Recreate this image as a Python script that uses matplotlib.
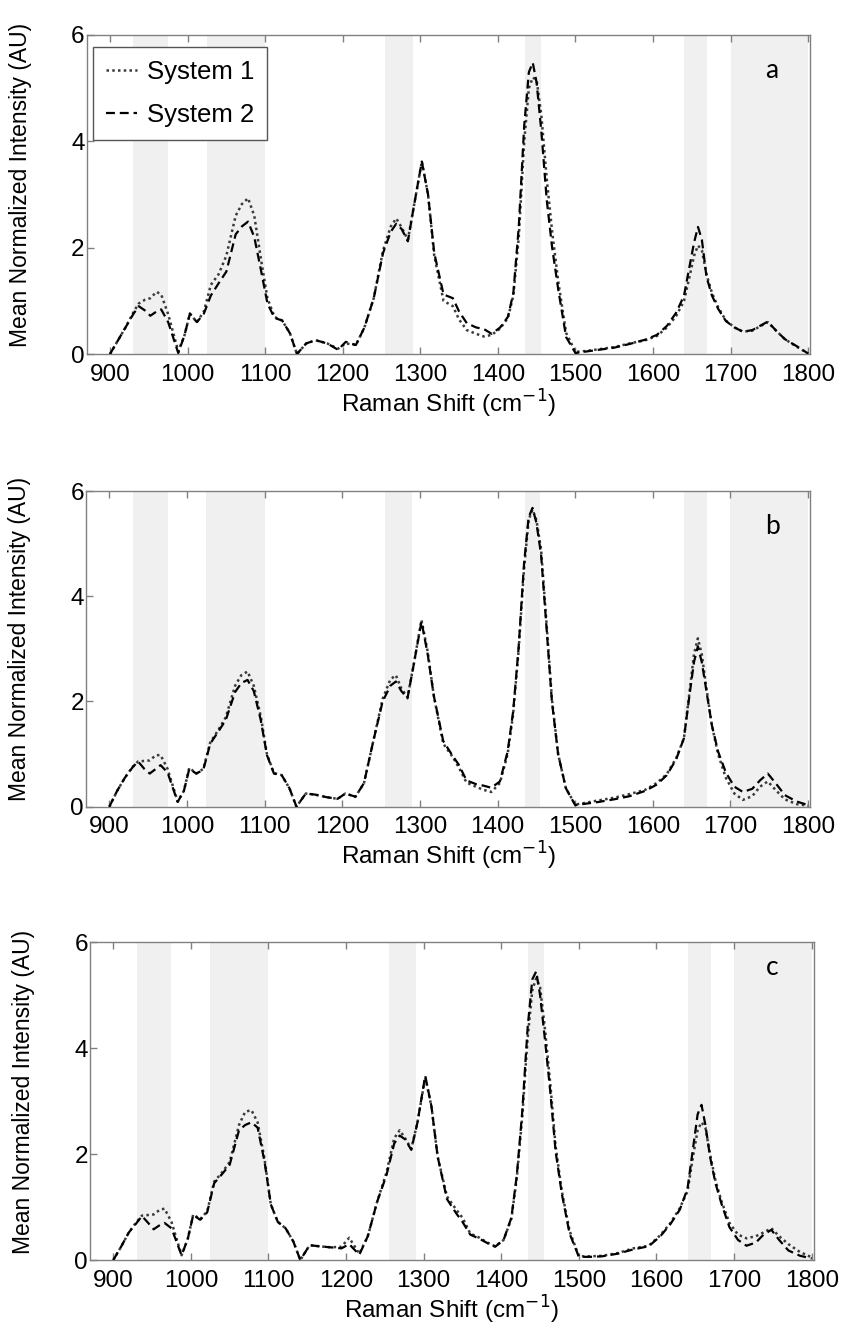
import numpy as np
import matplotlib
matplotlib.use("Agg")
import matplotlib.pyplot as plt

plt.rcParams['font.family'] = ['Liberation Sans', 'DejaVu Sans']

# Raman shift axis shared by all spectra (cm^-1)
shift = [900, 910, 920, 930, 937, 945, 952, 960, 966, 975,
         988, 996, 1003, 1012, 1021, 1030, 1040, 1050, 1062, 1070,
         1078, 1086, 1095, 1103, 1112, 1122, 1132, 1141, 1153, 1165,
         1180, 1194, 1204, 1217, 1228, 1240, 1252, 1262, 1269, 1276,
         1284, 1292, 1302, 1310, 1318, 1330, 1342, 1350, 1360, 1372,
         1382, 1392, 1403, 1413, 1420, 1427, 1434, 1440, 1445, 1450,
         1456, 1463, 1470, 1478, 1488, 1500, 1515, 1530, 1550, 1570,
         1590, 1605, 1618, 1630, 1640, 1647, 1653, 1658, 1663, 1669,
         1676, 1684, 1694, 1705, 1716, 1728, 1738, 1748, 1758, 1770,
         1785, 1800]

# panel a
a_sys1 = [0.0, 0.25, 0.5, 0.78, 0.95, 1.02, 1.05, 1.17, 1.12, 0.75,
          0.05, 0.35, 0.76, 0.6, 0.8, 1.3, 1.5, 1.85, 2.6, 2.82,
          2.93, 2.6, 1.75, 1.05, 0.7, 0.63, 0.39, 0.0, 0.2, 0.26,
          0.2, 0.1, 0.2, 0.17, 0.5, 1.05, 1.95, 2.4, 2.55, 2.38,
          2.15, 2.8, 3.62, 3.0, 1.85, 1.0, 0.9, 0.65, 0.45, 0.38,
          0.33, 0.36, 0.48, 0.68, 1.1, 2.2, 4.0, 5.0, 5.2, 5.15,
          4.5, 3.3, 2.3, 1.35, 0.4, 0.04, 0.06, 0.09, 0.13, 0.2,
          0.26, 0.34, 0.5, 0.72, 1.0, 1.45, 1.85, 2.04, 1.95, 1.5,
          1.15, 0.88, 0.63, 0.5, 0.42, 0.44, 0.52, 0.6, 0.45, 0.28,
          0.14, 0.01]
a_sys2 = [0.0, 0.25, 0.5, 0.75, 0.9, 0.82, 0.72, 0.8, 0.84, 0.6,
          0.02, 0.35, 0.76, 0.6, 0.76, 1.1, 1.33, 1.55, 2.25, 2.4,
          2.49, 2.2, 1.55, 0.95, 0.68, 0.63, 0.39, 0.0, 0.2, 0.26,
          0.2, 0.08, 0.23, 0.17, 0.5, 1.05, 1.9, 2.3, 2.45, 2.35,
          2.12, 2.8, 3.62, 3.0, 1.9, 1.12, 1.05, 0.8, 0.58, 0.5,
          0.47, 0.38, 0.5, 0.7, 1.15, 2.4, 4.3, 5.3, 5.48, 5.1,
          4.2, 2.9, 2.0, 1.2, 0.32, 0.02, 0.05, 0.08, 0.12, 0.19,
          0.27, 0.36, 0.53, 0.78, 1.1, 1.64, 2.1, 2.39, 2.15, 1.45,
          1.1, 0.85, 0.62, 0.5, 0.42, 0.45, 0.53, 0.61, 0.45, 0.28,
          0.15, 0.01]

# panel b
b_sys1 = [0.0, 0.3, 0.55, 0.76, 0.86, 0.87, 0.88, 0.98, 0.98, 0.72,
          0.1, 0.3, 0.74, 0.63, 0.72, 1.22, 1.45, 1.7, 2.3, 2.5,
          2.57, 2.3, 1.72, 1.0, 0.64, 0.6, 0.35, 0.0, 0.25, 0.23,
          0.18, 0.15, 0.25, 0.19, 0.45, 1.25, 2.05, 2.42, 2.5, 2.25,
          2.08, 2.7, 3.55, 2.95, 2.1, 1.2, 0.95, 0.75, 0.46, 0.38,
          0.32, 0.28, 0.45, 1.0, 1.75, 2.95, 4.5, 5.45, 5.65, 5.45,
          4.9, 3.5, 2.05, 1.0, 0.35, 0.04, 0.08, 0.12, 0.17, 0.24,
          0.32, 0.45, 0.62, 0.92, 1.3, 2.15, 2.9, 3.2, 2.9, 2.25,
          1.55, 1.0, 0.55, 0.25, 0.13, 0.2, 0.38, 0.48, 0.32, 0.14,
          0.05, 0.02]
b_sys2 = [0.0, 0.3, 0.55, 0.75, 0.86, 0.72, 0.63, 0.72, 0.79, 0.65,
          0.09, 0.3, 0.72, 0.63, 0.7, 1.2, 1.42, 1.65, 2.18, 2.35,
          2.41, 2.2, 1.65, 0.98, 0.63, 0.6, 0.35, 0.0, 0.25, 0.23,
          0.18, 0.15, 0.25, 0.19, 0.45, 1.25, 2.0, 2.3, 2.38, 2.2,
          2.06, 2.7, 3.52, 2.9, 2.1, 1.25, 0.97, 0.8, 0.5, 0.43,
          0.4, 0.36, 0.48, 1.05, 1.8, 3.0, 4.6, 5.5, 5.68, 5.4,
          4.8, 3.42, 2.0, 1.0, 0.35, 0.03, 0.06, 0.09, 0.14, 0.2,
          0.3, 0.42, 0.6, 0.9, 1.3, 2.1, 2.75, 3.05, 2.75, 2.2,
          1.55, 1.05, 0.65, 0.38, 0.28, 0.34, 0.5, 0.63, 0.45, 0.22,
          0.1, 0.03]

# panel c
c_sys1 = [0.0, 0.25, 0.52, 0.72, 0.84, 0.85, 0.86, 0.95, 0.97, 0.72,
          0.09, 0.4, 0.86, 0.77, 0.92, 1.48, 1.65, 1.85, 2.55, 2.8,
          2.83, 2.6, 1.9, 1.05, 0.72, 0.6, 0.35, 0.0, 0.28, 0.26,
          0.24, 0.25, 0.42, 0.12, 0.45, 1.1, 1.65, 2.3, 2.45, 2.3,
          2.1, 2.6, 3.45, 2.9, 1.95, 1.2, 0.95, 0.8, 0.5, 0.42,
          0.33, 0.26, 0.38, 0.78, 1.55, 2.7, 4.2, 5.1, 5.32, 5.15,
          4.4, 3.35, 2.15, 1.3, 0.55, 0.07, 0.07, 0.08, 0.13, 0.22,
          0.27, 0.47, 0.7, 0.98, 1.3, 1.95, 2.45, 2.6, 2.5, 2.0,
          1.5, 1.1, 0.7, 0.48, 0.41, 0.45, 0.52, 0.6, 0.45, 0.3,
          0.15, 0.05]
c_sys2 = [0.0, 0.25, 0.52, 0.7, 0.83, 0.7, 0.58, 0.66, 0.7, 0.6,
          0.09, 0.4, 0.85, 0.76, 0.9, 1.45, 1.62, 1.8, 2.45, 2.55,
          2.6, 2.5, 1.85, 1.05, 0.72, 0.6, 0.35, 0.0, 0.28, 0.26,
          0.24, 0.22, 0.3, 0.1, 0.45, 1.1, 1.6, 2.2, 2.35, 2.28,
          2.08, 2.6, 3.48, 2.9, 1.95, 1.15, 0.88, 0.72, 0.48, 0.4,
          0.32, 0.25, 0.38, 0.8, 1.6, 2.8, 4.4, 5.3, 5.45, 5.0,
          4.2, 3.2, 2.05, 1.25, 0.5, 0.06, 0.06, 0.07, 0.12, 0.2,
          0.26, 0.45, 0.68, 0.95, 1.35, 2.1, 2.75, 2.93, 2.55, 1.95,
          1.45, 1.05, 0.62, 0.38, 0.27, 0.33, 0.48, 0.57, 0.38, 0.18,
          0.08, 0.03]

# highlighted spectral regions
bands = [(930, 975), (1025, 1100), (1255, 1290), (1435, 1455), (1640, 1670), (1700, 1800)]

panels = [
    ('a', a_sys1, a_sys2, [0.1025, 0.7336, 0.8555, 0.2401], (0.946, 0.89)),
    ('b', b_sys1, b_sys2, [0.1017, 0.3930, 0.8563, 0.2375], (0.948, 0.887)),
    ('c', c_sys1, c_sys2, [0.1064, 0.0519, 0.8558, 0.2391], (0.942, 0.92)),
]

fig = plt.figure(figsize=(8.46, 13.29), dpi=100)

for i, (tag, s1, s2, pos, tpos) in enumerate(panels):
    ax = fig.add_axes(pos)
    for lo, hi in bands:
        ax.axvspan(lo, hi, color='#f0f0f0', lw=0, zorder=0)
    l1, = ax.plot(shift, s1, linestyle=(0, (1, 1.3)), color='#3a3a3a', lw=1.8, label='System 1', zorder=3)
    l2, = ax.plot(shift, s2, linestyle=(0, (4, 2.2)), color='black', lw=1.6, label='System 2', zorder=4)

    ax.set_xlim(870, 1803)
    ax.set_ylim(0, 6)
    ax.set_xticks(np.arange(900, 1801, 100))
    ax.set_yticks([0, 2, 4, 6])
    ax.tick_params(axis='x', direction='in', top=True, length=5, width=1, color='#808080',
                   labelsize=17.5, pad=7)
    ax.tick_params(axis='y', direction='in', length=5, width=1, color='#808080',
                   labelsize=17.5, pad=1.5)
    for sp in ax.spines.values():
        sp.set_color('#808080')
        sp.set_linewidth(1)

    ax.set_xlabel('Raman Shift (cm$^{-1}$)', fontsize=17.5)
    ax.xaxis.set_label_coords(0.5, -0.105)
    ax.set_ylabel('Mean Normalized Intensity (AU)', fontsize=16.5)
    ax.yaxis.set_label_coords(-0.076, 0.53)

    ax.text(tpos[0], tpos[1], tag, transform=ax.transAxes, fontsize=19,
            family=['Lato', 'DejaVu Sans'], ha='center', va='center')

    if i == 0:
        leg = ax.legend(handles=[l1, l2], loc='upper left', bbox_to_anchor=(0.009, 0.962),
                        borderaxespad=0, fontsize=18.5, handlelength=1.2, handletextpad=0.4,
                        fancybox=False, framealpha=1, borderpad=0.5, labelspacing=0.75)
        leg.get_frame().set_edgecolor('#555555')
        leg.get_frame().set_linewidth(1)

fig.savefig('out.png', dpi=100)
